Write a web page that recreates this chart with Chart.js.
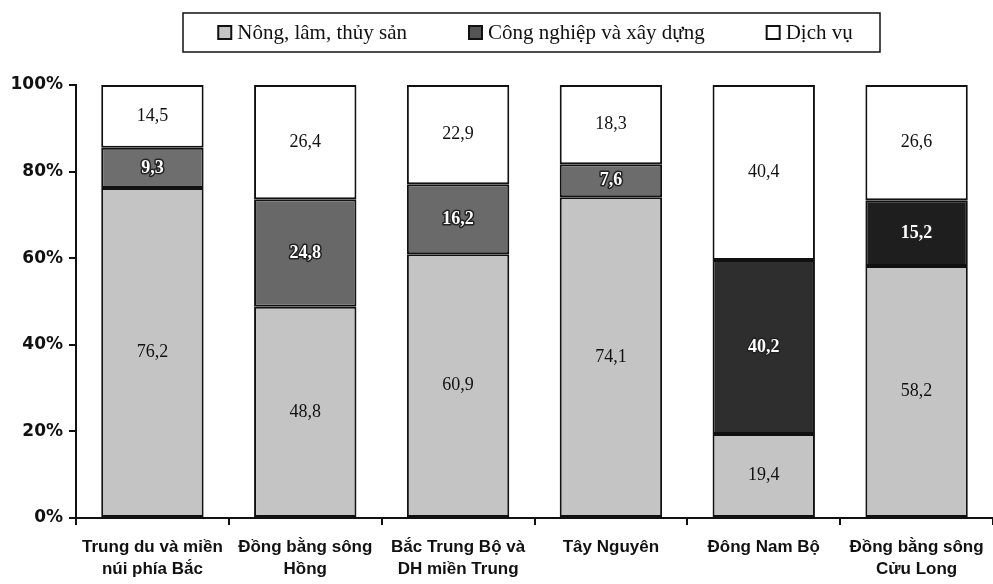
<!DOCTYPE html>
<html>
<head>
<meta charset="utf-8">
<script src="https://cdn.jsdelivr.net/npm/chart.js@4.4.1/dist/chart.umd.min.js"></script>
<style>
  html, body { margin:0; padding:0; background:#fff; }
  #wrap { position:relative; width:993px; height:584px; }
</style>
</head>
<body>
<div id="wrap"><canvas id="c"></canvas></div>
<script>
// Cơ cấu GDP theo vùng (%)
const regions = [
  ['Trung du và miền', 'núi phía Bắc'],
  ['Đồng bằng sông', 'Hồng'],
  ['Bắc Trung Bộ và', 'DH miền Trung'],
  'Tây Nguyên',
  'Đông Nam Bộ',
  ['Đồng bằng sông', 'Cửu Long']
];
const seriesNames = ['Nông, lâm, thủy sản', 'Công nghiệp và xây dựng', 'Dịch vụ'];
const nongLamThuySan = [76.2, 48.8, 60.9, 74.1, 19.4, 58.2];
const congNghiepXayDung = [9.3, 24.8, 16.2, 7.6, 40.2, 15.2];
const dichVu = [14.5, 26.4, 22.9, 18.3, 40.4, 26.6];
const yTicks = [0, 20, 40, 60, 80, 100];

const SERIF = '"Liberation Serif", "Times New Roman", serif';
const SANS = '"Liberation Sans", Arial, sans-serif';
const DEJA = '"DejaVu Sans", sans-serif';

function fmt(v){ return String(v).replace('.', ','); }

// nhãn giá trị ở giữa mỗi đoạn cột
const valueLabels = {
  id: 'valueLabels',
  afterDatasetsDraw(chart){
    const ctx = chart.ctx;
    chart.data.datasets.forEach((ds, di) => {
      const meta = chart.getDatasetMeta(di);
      meta.data.forEach((bar, i) => {
        const y = (bar.y + bar.base) / 2;
        const txt = fmt(ds.data[i]);
        ctx.save();
        ctx.textAlign = 'center';
        ctx.textBaseline = 'middle';
        if (di === 1){
          ctx.font = 'bold 18px ' + SERIF;
          ctx.lineWidth = 3;
          ctx.strokeStyle = '#222';
          ctx.lineJoin = 'round';
          ctx.strokeText(txt, bar.x, y);
          ctx.fillStyle = '#fff';
          ctx.fillText(txt, bar.x, y);
        } else {
          ctx.font = '18px ' + SERIF;
          ctx.fillStyle = '#111';
          ctx.fillText(txt, bar.x, y);
        }
        ctx.restore();
      });
    });
  }
};

// chú giải có khung phía trên
const boxLegend = {
  id: 'boxLegend',
  afterDraw(chart){
    const ctx = chart.ctx;
    const bx = 183, by = 13, bw = 697, bh = 39;
    ctx.save();
    ctx.lineWidth = 1.5;
    ctx.strokeStyle = '#111';
    ctx.strokeRect(bx, by, bw, bh);
    ctx.font = '21px ' + SERIF;
    const sq = 13, gapIn = 6, gapItem = 62;
    const widths = chart.data.datasets.map(d => ctx.measureText(d.label).width);
    const total = widths.reduce((a, w) => a + sq + gapIn + w, 0) + gapItem * (widths.length - 1);
    let x = bx + (bw - total) / 2 + 4;
    const cy = by + bh / 2;
    chart.data.datasets.forEach((d, i) => {
      ctx.fillStyle = d.legendColor;
      ctx.fillRect(x, cy - sq / 2, sq, sq);
      ctx.lineWidth = 2;
      ctx.strokeStyle = '#111';
      ctx.strokeRect(x, cy - sq / 2, sq, sq);
      ctx.fillStyle = '#111';
      ctx.textBaseline = 'middle';
      ctx.textAlign = 'left';
      ctx.fillText(d.label, x + sq + gapIn, cy + 1);
      x += sq + gapIn + widths[i] + gapItem;
    });
    ctx.restore();
  }
};

const barStyle = { borderColor: '#111', borderWidth: 2, borderSkipped: false, barPercentage: 0.67, categoryPercentage: 1 };

new Chart(document.getElementById('c'), {
  type: 'bar',
  data: {
    labels: regions,
    datasets: [
      Object.assign({ label: seriesNames[0], data: nongLamThuySan, backgroundColor: '#c4c4c4', legendColor: '#c4c4c4' }, barStyle),
      Object.assign({ label: seriesNames[1], data: congNghiepXayDung,
        backgroundColor: ['#6e6e6e', '#686868', '#6a6a6a', '#6c6c6c', '#2e2e2e', '#1e1e1e'], legendColor: '#555555' }, barStyle),
      Object.assign({ label: seriesNames[2], data: dichVu, backgroundColor: '#ffffff', legendColor: '#ffffff' }, barStyle)
    ]
  },
  options: {
    responsive: true,
    maintainAspectRatio: false,
    animation: false,
    layout: { padding: { top: 85, right: 0, bottom: 0, left: 0 } },
    plugins: { legend: { display: false }, tooltip: { enabled: false } },
    scales: {
      x: {
        stacked: true,
        border: { color: '#111', width: 2 },
        grid: { offset: true, drawOnChartArea: false, drawTicks: true, tickLength: 7, color: '#111', lineWidth: 2 },
        ticks: { color: '#111', padding: 12, maxRotation: 0, autoSkip: false, font: { family: SANS, size: 17, weight: 'bold', lineHeight: 1.25 } },
        afterFit(s){ s.height = 66; s.paddingRight = 0; s.paddingLeft = 0; }
      },
      y: {
        stacked: true,
        min: 0, max: 100,
        border: { color: '#111', width: 2 },
        grid: { drawOnChartArea: false, drawTicks: true, tickLength: 7, color: '#111', lineWidth: 2 },
        afterBuildTicks(s){ s.ticks = yTicks.map(v => ({ value: v })); },
        ticks: { color: '#111', padding: 6, font: { family: DEJA, size: 17, weight: 'bold' }, callback: v => v + '%' },
        afterFit(s){ s.width = 76; }
      }
    }
  },
  plugins: [valueLabels, boxLegend]
});
</script>
</body>
</html>
